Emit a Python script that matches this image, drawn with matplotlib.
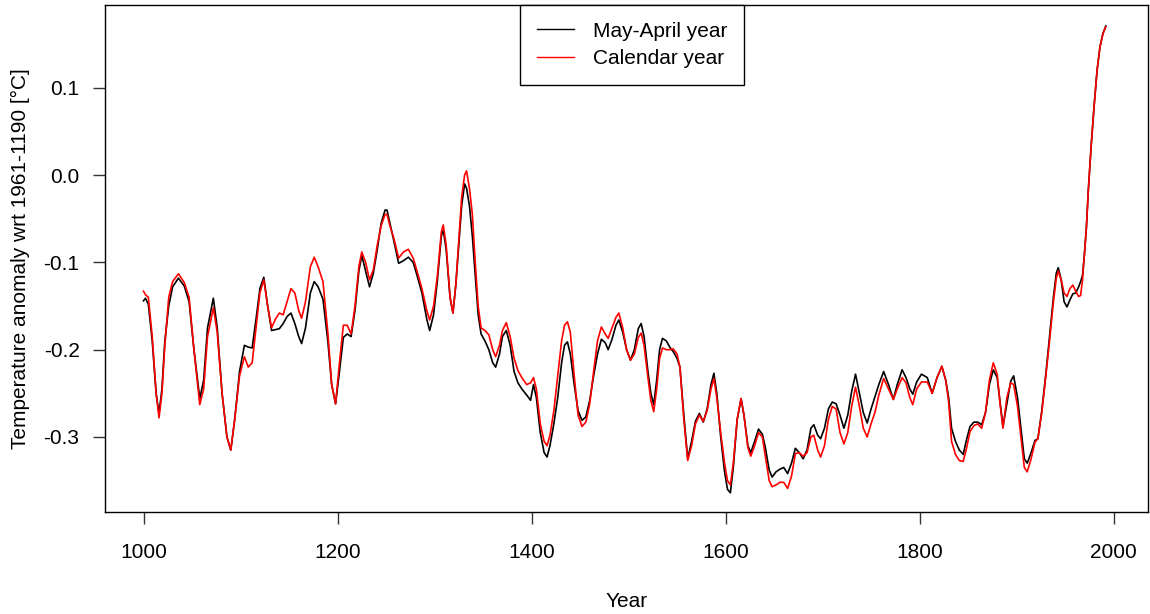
import matplotlib
matplotlib.use("Agg")
import matplotlib.pyplot as plt
import numpy as np

years = [1000, 1002, 1005, 1009, 1013, 1016, 1019, 1022, 1026, 1030, 1036, 1042, 1047, 1052, 1058,
         1062, 1066, 1072, 1076, 1081, 1086, 1090, 1094, 1099, 1104, 1108, 1112, 1116, 1120, 1124,
         1128, 1132, 1136, 1140, 1144, 1148, 1152, 1156, 1160, 1163, 1167, 1172, 1176, 1180, 1185,
         1190, 1194, 1198, 1202, 1206, 1210, 1214, 1218, 1222, 1225, 1229, 1233, 1237, 1241, 1245,
         1249, 1251, 1254, 1258, 1263, 1268, 1273, 1278, 1282, 1287, 1292, 1295, 1299, 1303, 1307,
         1309, 1312, 1316, 1319, 1322, 1325, 1328, 1331, 1333, 1336, 1339, 1342, 1345, 1348, 1352,
         1356, 1360, 1363, 1367, 1370, 1374, 1378, 1382, 1386, 1390, 1395, 1399, 1402, 1405, 1409,
         1413, 1416, 1419, 1423, 1427, 1431, 1434, 1437, 1440, 1444, 1448, 1452, 1456, 1460, 1464,
         1468, 1472, 1476, 1479, 1483, 1487, 1490, 1494, 1498, 1502, 1506, 1510, 1513, 1516, 1520,
         1523, 1526, 1529, 1532, 1535, 1539, 1543, 1546, 1550, 1553, 1557, 1561, 1565, 1569, 1573,
         1577, 1581, 1585, 1588, 1591, 1595, 1599, 1602, 1605, 1608, 1612, 1616, 1619, 1623, 1626,
         1630, 1634, 1638, 1641, 1645, 1648, 1652, 1656, 1660, 1664, 1668, 1672, 1676, 1680, 1684,
         1688, 1691, 1695, 1698, 1702, 1706, 1710, 1714, 1718, 1722, 1726, 1730, 1734, 1738, 1742,
         1746, 1750, 1754, 1758, 1763, 1768, 1773, 1777, 1782, 1786, 1790, 1793, 1797, 1802, 1808,
         1813, 1818, 1823, 1827, 1830, 1833, 1837, 1841, 1845, 1848, 1852, 1856, 1860, 1864, 1868,
         1872, 1876, 1880, 1883, 1886, 1890, 1894, 1897, 1901, 1905, 1908, 1911, 1915, 1919, 1922,
         1926, 1930, 1934, 1938, 1941, 1943, 1946, 1949, 1952, 1955, 1958, 1961, 1964, 1966, 1968,
         1970, 1972, 1974, 1977, 1980, 1983, 1986, 1989, 1992]

may_april = [-0.144, -0.141, -0.148, -0.190, -0.250, -0.273, -0.245, -0.190, -0.150, -0.128, -0.118, -0.127, -0.145, -0.200, -0.256,
             -0.235, -0.175, -0.141, -0.175, -0.250, -0.300, -0.315, -0.280, -0.225, -0.195, -0.197, -0.198, -0.165, -0.130, -0.117,
             -0.150, -0.178, -0.177, -0.176, -0.170, -0.162, -0.158, -0.170, -0.185, -0.193, -0.175, -0.135, -0.122, -0.128, -0.142,
             -0.190, -0.240, -0.262, -0.225, -0.186, -0.182, -0.185, -0.155, -0.110, -0.092, -0.110, -0.128, -0.112, -0.085, -0.055,
             -0.040, -0.040, -0.055, -0.075, -0.101, -0.098, -0.094, -0.100, -0.115, -0.135, -0.165, -0.178, -0.160, -0.120, -0.070,
             -0.063, -0.085, -0.140, -0.158, -0.125, -0.080, -0.035, -0.010, -0.015, -0.035, -0.070, -0.115, -0.160, -0.182, -0.190,
             -0.200, -0.215, -0.220, -0.205, -0.185, -0.178, -0.195, -0.225, -0.238, -0.245, -0.252, -0.258, -0.240, -0.255, -0.295,
             -0.318, -0.323, -0.310, -0.285, -0.255, -0.215, -0.195, -0.191, -0.205, -0.240, -0.270, -0.281, -0.277, -0.258, -0.230,
             -0.205, -0.188, -0.192, -0.200, -0.188, -0.172, -0.166, -0.180, -0.200, -0.212, -0.200, -0.176, -0.170, -0.185, -0.225,
             -0.250, -0.263, -0.235, -0.200, -0.187, -0.190, -0.198, -0.202, -0.210, -0.220, -0.275, -0.325, -0.305, -0.282, -0.273,
             -0.283, -0.268, -0.240, -0.227, -0.250, -0.300, -0.340, -0.360, -0.364, -0.335, -0.280, -0.256, -0.275, -0.310, -0.318,
             -0.305, -0.291, -0.297, -0.312, -0.338, -0.346, -0.340, -0.337, -0.335, -0.342, -0.330, -0.313, -0.318, -0.325, -0.315,
             -0.290, -0.286, -0.298, -0.302, -0.290, -0.268, -0.260, -0.262, -0.275, -0.290, -0.275, -0.248, -0.228, -0.250, -0.272,
             -0.284, -0.268, -0.254, -0.240, -0.225, -0.240, -0.257, -0.240, -0.223, -0.232, -0.245, -0.251, -0.237, -0.228, -0.232,
             -0.250, -0.232, -0.219, -0.235, -0.255, -0.290, -0.305, -0.315, -0.320, -0.305, -0.288, -0.283, -0.283, -0.286, -0.272,
             -0.240, -0.223, -0.232, -0.260, -0.288, -0.262, -0.236, -0.230, -0.255, -0.295, -0.325, -0.330, -0.318, -0.304, -0.302,
             -0.270, -0.230, -0.185, -0.140, -0.112, -0.106, -0.120, -0.145, -0.151, -0.143, -0.136, -0.135, -0.128, -0.122, -0.115,
             -0.090, -0.060, -0.017, 0.035, 0.080, 0.120, 0.147, 0.162, 0.171]

calendar = [-0.133, -0.137, -0.140, -0.185, -0.250, -0.278, -0.250, -0.195, -0.140, -0.122, -0.113, -0.123, -0.140, -0.200, -0.263,
            -0.245, -0.185, -0.152, -0.180, -0.250, -0.300, -0.315, -0.280, -0.230, -0.208, -0.220, -0.215, -0.175, -0.135, -0.120,
            -0.150, -0.175, -0.165, -0.158, -0.160, -0.145, -0.130, -0.135, -0.155, -0.164, -0.145, -0.105, -0.094, -0.105, -0.122,
            -0.180, -0.240, -0.262, -0.215, -0.172, -0.172, -0.182, -0.150, -0.105, -0.088, -0.100, -0.120, -0.108, -0.080, -0.058,
            -0.045, -0.045, -0.058, -0.072, -0.095, -0.088, -0.085, -0.095, -0.110, -0.130, -0.155, -0.166, -0.150, -0.115, -0.065,
            -0.057, -0.080, -0.140, -0.158, -0.125, -0.075, -0.025, 0.000, 0.005, -0.015, -0.045, -0.100, -0.150, -0.175, -0.178,
            -0.183, -0.200, -0.208, -0.195, -0.178, -0.169, -0.185, -0.210, -0.224, -0.232, -0.240, -0.238, -0.232, -0.245, -0.285,
            -0.305, -0.310, -0.298, -0.270, -0.230, -0.190, -0.172, -0.168, -0.180, -0.230, -0.275, -0.288, -0.283, -0.262, -0.225,
            -0.190, -0.174, -0.182, -0.187, -0.175, -0.163, -0.158, -0.175, -0.200, -0.212, -0.205, -0.186, -0.181, -0.195, -0.232,
            -0.258, -0.271, -0.245, -0.210, -0.198, -0.200, -0.200, -0.199, -0.205, -0.220, -0.280, -0.327, -0.310, -0.285, -0.275,
            -0.282, -0.270, -0.245, -0.233, -0.255, -0.295, -0.330, -0.350, -0.355, -0.330, -0.280, -0.256, -0.275, -0.312, -0.322,
            -0.310, -0.295, -0.300, -0.322, -0.350, -0.357, -0.355, -0.352, -0.352, -0.359, -0.345, -0.319, -0.318, -0.322, -0.318,
            -0.300, -0.298, -0.315, -0.323, -0.310, -0.280, -0.265, -0.268, -0.295, -0.308, -0.295, -0.265, -0.243, -0.265, -0.290,
            -0.300, -0.285, -0.272, -0.252, -0.233, -0.245, -0.257, -0.245, -0.232, -0.238, -0.255, -0.263, -0.245, -0.237, -0.237,
            -0.250, -0.232, -0.219, -0.235, -0.260, -0.305, -0.320, -0.327, -0.328, -0.315, -0.294, -0.287, -0.285, -0.290, -0.272,
            -0.235, -0.215, -0.228, -0.262, -0.290, -0.255, -0.238, -0.240, -0.265, -0.305, -0.335, -0.340, -0.325, -0.306, -0.302,
            -0.272, -0.232, -0.190, -0.145, -0.118, -0.110, -0.120, -0.135, -0.139, -0.130, -0.126, -0.133, -0.139, -0.138, -0.120,
            -0.090, -0.060, -0.017, 0.035, 0.080, 0.120, 0.147, 0.162, 0.170]

series_labels = ["May-April year", "Calendar year"]
x_ticks = [1000, 1200, 1400, 1600, 1800, 2000]
y_ticks = [-0.3, -0.2, -0.1, 0.0, 0.1]

plt.rcParams["font.family"] = ["Liberation Sans", "DejaVu Sans"]
plt.rcParams["axes.unicode_minus"] = False

fig = plt.figure(figsize=(11.5, 6.14), dpi=100)
ax = fig.add_axes([104.7 / 1150, 1 - 512 / 614, (1148 - 104.7) / 1150, (512 - 5) / 614])

ax.plot(years, may_april, color="black", lw=1.2, label=series_labels[0])
ax.plot(years, calendar, color="red", lw=1.2, label=series_labels[1])

ax.set_xlim(960, 2035.5)
ax.set_ylim(-0.386, 0.195)
ax.set_xticks(x_ticks)
ax.set_yticks(y_ticks)
ax.set_yticklabels(["%.1f" % v for v in y_ticks])
ax.tick_params(axis="x", length=8.6, width=1, pad=13.5, labelsize=15, color="#333333")
ax.tick_params(axis="y", length=8.6, width=1, pad=9.5, labelsize=15, color="#333333")
for s in ax.spines.values():
    s.set_linewidth(1.0)

ax.set_xlabel("Year", fontsize=15, labelpad=22)
ax.set_ylabel("Temperature anomaly wrt 1961-1190 [\u00b0C]", fontsize=15, labelpad=10)

leg = ax.legend(loc="upper center", bbox_to_anchor=(0.5056, 1.0), fontsize=15,
                handlelength=1.8, handletextpad=0.9, borderpad=0.8, labelspacing=0.42,
                borderaxespad=0, fancybox=False, framealpha=1, edgecolor="black")
leg.get_frame().set_linewidth(1.0)
for line in leg.get_lines():
    line.set_linewidth(1.0)

fig.savefig("out.png", dpi=100)
